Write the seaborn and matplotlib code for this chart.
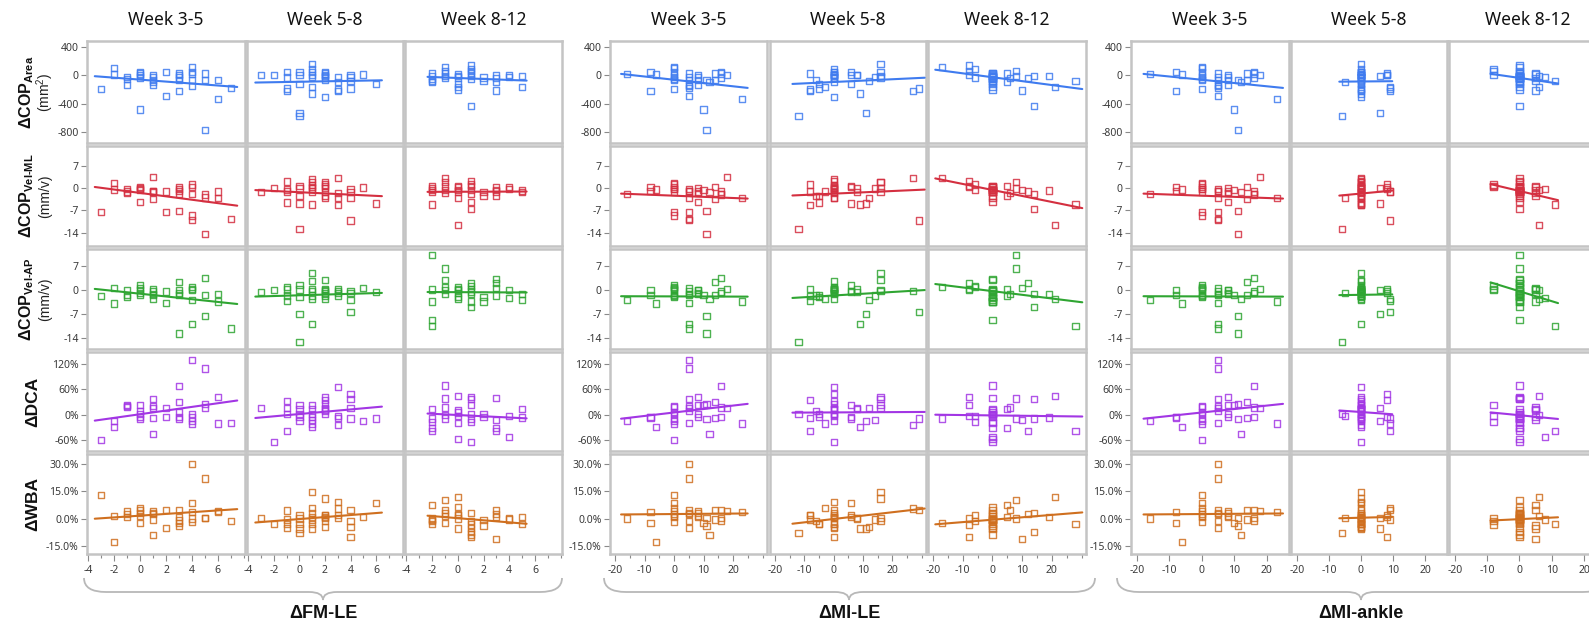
import numpy as np
import matplotlib
matplotlib.use("Agg")
import matplotlib.pyplot as plt
from matplotlib.path import Path
from matplotlib.patches import PathPatch
import seaborn as sns

sns.set_theme(style="white")
plt.rcParams["font.family"] = ["Noto Sans", "DejaVu Sans"]
plt.rcParams["axes.unicode_minus"] = False
plt.rcParams["mathtext.fontset"] = "custom"
plt.rcParams["mathtext.rm"] = "Liberation Sans"
plt.rcParams["mathtext.bf"] = "Liberation Sans:bold"
plt.rcParams["mathtext.it"] = "Liberation Sans:italic"

# ---------------------------------------------------------------- data
weeks = ["Week 3-5", "Week 5-8", "Week 8-12"]
predictor_names = ["ΔFM-LE", "ΔMI-LE", "ΔMI-ankle"]

# Week 3-5 (one entry per participant)
fm_w1 = [4, -2, 2, 4, 0, 0, 3, 5, 4, -2, 0, 1, 3, -1, 1, 0, 3, -1, 1, 3, 6, 4, 5, 1, -1, 1, 4, 7, -3, 3, 2, 6, 0, 5]
mile_w1 = [0, 0, 16, -8, 0, 5, 14, 16, -16, -6, 8, 18, 0, 0, 5, 8, 16, 0, 14, 11, 8, 0, 5, 12, 8, 5, 5, 5, 0, -8, 5, 23, 10, 11]
mia_w1 = [0, 0, 16, -8, 0, 5, 14, 16, -16, -6, 8, 18, 0, 0, 5, 8, 16, 0, 14, 11, 8, 0, 5, 12, 8, 5, 5, 5, 0, -8, 5, 23, 10, 11]
area_w1 = [110, 100, 48, 48, 43, 24, 24, 24, 14, 10, 5, 5, 0, -24, -24, -33, -33, -52, -62, -62, -62, -71, -71, -90,
           -138, -138, -152, -181, -190, -224, -290, -333, -481, -771]
mlv_w1 = [1.2, 1.7, -1.0, 0.3, 0.3, -0.3, 0.3, -2.0, -1.7, -0.4, -4.3, 3.6, -0.3, -0.2, -1.0, 0.0, -1.9, -1.0, -3.3,
          -7.1, -1.0, -8.6, -2.9, -1.2, -1.6, -0.8, -10.0, -9.6, -7.6, -0.8, -7.4, -3.2, -0.6, -14.5]
apv_w1 = [0.4, 0.7, -0.4, 0.1, 1.4, 0.7, 2.3, 3.6, -2.9, -3.9, 0.0, 0.4, 0.0, -1.5, -0.3, -0.8, -0.8, -2.0, -1.5,
          -12.7, -1.1, 1.0, -1.5, -2.7, 0.0, -1.2, -9.8, -11.2, -1.8, -1.5, -3.7, -3.3, -1.5, -7.6]
dca_w1 = [2, -16, -5, -7, -11, 8, 30, 17, -15, -30, 2, 15, 6, 21, 20, -5, 67, 18, -8, -11, 41, -23, 109, -45, 23, 36,
          130, -20, -60, -5, 16, -21, 22, 25]
wba_w1 = [8.4, 1.6, 4.6, 3.7, 5.9, 4.4, 4.6, 0.4, 0.0, -13.0, 2.9, 4.0, 0.7, 4.0, 2.6, 1.5, -1.1, 2.6, -0.5, -4.2,
          4.0, -1.8, 22.0, -9.1, 0.7, 3.0, 30.0, -1.5, 12.8, -2.6, -5.3, 3.5, -2.6, 0.4]

# Week 5-8
fm_w2 = [1, 1, -1, 0, 1, 2, 2, 5, 0, 1, 2, -3, -2, 4, 2, 1, -1, 2, 3, 4, 2, 4, 3, 6, 0, 1, -1, 4, 3, -1, 3, 1, 2, 0, 0]
mile_w2 = [16, 0, 0, 6, 0, 16, -8, 0, 8, 6, 0, 8, 0, 0, 16, 14, 0, 0, 0, 16, -6, 12, 0, 6, -5, -3, -5, 29, -8, -8,
           27, 9, 0, 11, -12]
mia_w2 = [0, 0, 0, 0, 0, 0, 8, 0, 0, 8, 0, 0, 0, 8, 6, 0, 0, 0, 0, 0, 0, 0, -5, 0, 0, 9, 0, 9, 0, 9, 0, 0, 0, 6, -6]
area_w2 = [157, 86, 43, 43, 43, 43, 24, 10, 5, 5, 5, 0, 0, 0, -14, -20, -33, -33, -33, -33, -62, -81, -95, -124,
           -128, -162, -186, -186, -200, -224, -224, -257, -309, -533, -567]
mlv_w2 = [1.9, 2.8, 2.1, 0.6, 1.1, 1.9, 1.2, 0.2, -0.1, 0.5, 0.8, -1.3, 0.0, -0.2, 0.0, -0.1, -0.4, -1.3, -1.5,
          -1.3, -2.5, -3.0, -3.2, -4.8, -2.5, -1.0, -4.5, -10.2, -5.2, -1.0, 3.2, -5.1, -3.2, -4.8, -12.9]
apv_w2 = [5.1, 2.6, 0.8, 1.6, 0.4, 3.0, 0.4, 0.7, 0.2, -0.3, -0.3, -0.5, 0.1, -0.8, 0.0, -1.6, 0.2, -1.0, 0.4,
          -0.2, -1.6, -2.9, -0.8, -0.6, -2.0, -2.7, -1.6, -6.5, -1.8, -3.2, -0.2, -9.8, -2.7, -7.0, -15.1]
dca_w2 = [22, 14, 33, 22, 2, 41, 34, -15, 14, -5, 26, 15, -65, 48, 16, -13, 15, 12, 65, 36, 9, 16, -3, -9, -5, -21,
          2, -9, -8, -38, -24, -29, 2, -15, 2]
wba_w2 = [14.5, -2.9, 4.4, 1.8, 3.1, 11.0, 1.8, 0.7, 0.0, 1.0, 0.7, 0.2, -2.9, -10.2, 0.5, -0.5, -5.1, 2.0, 9.0,
          -1.5, -1.5, -4.8, 0.4, 8.6, -2.9, 5.9, -2.9, 4.9, 1.8, -0.5, 5.5, -5.5, -4.8, -5.5, -8.0]

# Week 8-12
fm_w3 = [1, -1, 1, -1, 1, -2, -1, 1, 0, 4, 3, -2, -1, 0, 1, 5, 4, 0, 2, -1, 3, -2, 1, 2, -2, 3, -2, 0, 0, 5, 0, 3, 1]
mile_w3 = [-8, -17, -6, 8, -8, 5, 0, 0, 0, -8, 0, 8, 0, 0, 14, 19, 0, -6, 0, 6, 12, 0, 0, 0, 28, 5, 0, 0, 21, 0,
           0, 10, 14]
mia_w3 = [0, 0, -8, 0, -8, 5, 0, 0, 5, -8, 0, 0, 6, 0, 0, 0, 8, 0, 0, 5, 0, 0, 0, 5, 11, 0, 0, 0, 6, 0, 0, 5, 0]
area_w3 = [138, 110, 90, 62, 62, 24, 24, 24, 14, 5, -5, -14, -14, -14, -14, -14, -20, -33, -33, -43, -43, -52, -52,
           -81, -86, -90, -100, -128, -167, -162, -200, -214, -428]
mlv_w3 = [2.2, 3.2, 1.2, 1.9, 0.6, 0.6, 0.6, -0.6, 0.2, 0.4, 0.2, -0.1, -0.6, 0.6, -1.7, -0.7, -0.2, -0.6, -1.1,
          -1.5, -1.0, -0.6, -4.3, -2.5, -5.1, -2.3, -1.3, -3.0, -11.6, -1.3, -1.0, -0.5, -6.5]
apv_w3 = [2.0, 1.0, 1.2, 6.3, 0.4, 0.2, 2.9, -0.4, 0.4, 0.0, 3.3, 10.3, 0.0, -0.8, -1.2, -1.1, -2.3, 1.0, -2.0,
          -1.1, 2.0, -8.8, -3.3, -3.3, -10.4, -1.6, -3.3, -2.0, -2.5, -2.9, 0.0, 0.5, -4.9]
dca_w3 = [41, -9, -17, 38, 22, 14, 69, 2, 10, -3, 40, -9, 0, 5, -9, -7, -52, -3, 2, 17, -38, -17, -64, -5, -38, -31,
          -31, -58, 44, 14, -20, -13, 36]
wba_w3 = [-10.2, -2.4, -1.5, 10.0, -3.3, 7.3, 3.1, -5.1, -5.5, 0.0, 4.6, 0.0, 1.3, 6.2, -7.3, 0.7, -0.5, 1.8, -0.7,
          4.9, 2.6, -1.5, -8.8, -3.8, -2.9, 0.7, -1.0, 0.0, 11.7, -2.9, 2.5, -11.3, 3.1]

predictors = [[fm_w1, fm_w2, fm_w3], [mile_w1, mile_w2, mile_w3], [mia_w1, mia_w2, mia_w3]]
outcomes = [[area_w1, area_w2, area_w3], [mlv_w1, mlv_w2, mlv_w3], [apv_w1, apv_w2, apv_w3],
            [dca_w1, dca_w2, dca_w3], [wba_w1, wba_w2, wba_w3]]

y_ticks = [[400, 0, -400, -800], [7, 0, -7, -14], [7, 0, -7, -14], [120, 60, 0, -60], [30, 15, 0, -15]]
y_tick_labels = [["400", "0", "-400", "-800"], ["7", "0", "-7", "-14"], ["7", "0", "-7", "-14"],
                 ["120%", "60%", "0%", "-60%"], ["30.0%", "15.0%", "0.0%", "-15.0%"]]
x_ticks = [[-4, -2, 0, 2, 4, 6], [-20, -10, 0, 10, 20], [-20, -10, 0, 10, 20]]

# ---------------------------------------------------------------- styling
row_colors = ["#3f7bef", "#d42f40", "#2fa532", "#a236e4", "#cf6f1f"]
y_limits = [(-950, 480), (-18.2, 13.3), (-17.2, 12.0), (-86, 148), (-19.5, 35.5)]
x_limits = [(-4.1, 8.1), (-21.7, 31.5), (-21.8, 26.8)]
x_minor_step = [1, 5, None]

W, H = 1589, 625
fig = plt.figure(figsize=(W / 100, H / 100), dpi=100)

col_edges = [(87, 245), (247, 403), (405, 562),
             (610, 767), (770, 926), (928, 1086),
             (1131, 1289), (1291, 1447), (1449, 1606)]
row_edges = [(41, 143), (146, 246), (249, 349), (352, 451), (454, 554)]

border = "#c4c4c4"
tick_col = "#8a8a8a"
label_col = "#3a3a3a"

for g in range(3):
    for w in range(3):
        c = g * 3 + w
        l, r = col_edges[c]
        for ri in range(5):
            t, b = row_edges[ri]
            ax = fig.add_axes([l / W, 1 - b / H, (r - l) / W, (b - t) / H])
            x = np.asarray(predictors[g][w], dtype=float)
            y = np.asarray(outcomes[ri][w], dtype=float)
            color = row_colors[ri]

            sns.scatterplot(x=x, y=y, ax=ax, marker="s", s=20, color=color,
                            linewidth=1.0, alpha=0.85, legend=False, zorder=3)
            pts = ax.collections[-1]
            pts.set_facecolor("none")
            pts.set_edgecolor(color)

            # least-squares fit line over the data range plus a small margin
            slope, intercept = np.polyfit(x, y, 1)
            span = x.max() - x.min()
            xr = np.array([x.min() - 0.05 * span, x.max() + 0.05 * span])
            ax.plot(xr, slope * xr + intercept, color=color, lw=1.5, zorder=4)

            ax.set_xlim(*x_limits[g])
            ax.set_ylim(*y_limits[ri])
            ax.set_xlabel("")
            ax.set_ylabel("")
            for s in ax.spines.values():
                s.set_color(border)
                s.set_linewidth(1.8)
                s.set_visible(True)
            ax.set_facecolor("white")

            ax.set_yticks(y_ticks[ri])
            if w == 0:
                ax.set_yticklabels(y_tick_labels[ri])
                ax.tick_params(axis="y", left=True, length=4, width=0.8, color=tick_col,
                               labelsize=7.5, labelcolor=label_col, pad=2)
            else:
                ax.tick_params(axis="y", left=False, labelleft=False)

            ax.set_xticks(x_ticks[g])
            if x_minor_step[g]:
                lo, hi = x_limits[g]
                step = x_minor_step[g]
                minors = np.arange(np.ceil(lo / step) * step, hi + 1e-9, step)
                ax.set_xticks(minors, minor=True)
            if ri == 4:
                ax.set_xticklabels([str(v) for v in x_ticks[g]])
                ax.tick_params(axis="x", which="major", bottom=True, length=5, width=0.8,
                               color=tick_col, labelsize=7.5, labelcolor=label_col, pad=3)
                ax.tick_params(axis="x", which="minor", bottom=True, length=3, width=0.8,
                               color=tick_col)
            else:
                ax.tick_params(axis="x", which="both", bottom=False, labelbottom=False)

            if ri == 0:
                ax.text(0.5, 1 + (t - 20) / (b - t), weeks[w],
                        transform=ax.transAxes, ha="center", va="center",
                        fontsize=12.5, color="#111111")

# ---------------------------------------------------------------- row labels
row_label_main = [r"$\mathbf{ΔCOP}_{\mathbf{Area}}$", r"$\mathbf{ΔCOP}_{\mathbf{Vel‐ML}}$",
                  r"$\mathbf{ΔCOP}_{\mathbf{Vel‐AP}}$", "ΔDCA", "ΔWBA"]
row_label_unit = ["(mm$^2$)", "(mm/v)", "(mm/v)", None, None]
for ri in range(5):
    t, b = row_edges[ri]
    yc = 1 - (t + b) / 2 / H
    if row_label_unit[ri]:
        fig.text(27 / W, yc, row_label_main[ri], rotation=90, ha="center", va="center",
                 fontsize=11.5, color="#111111")
        fig.text(45 / W, yc, row_label_unit[ri], rotation=90, ha="center", va="center",
                 fontsize=10, color="#222222", family=["Liberation Sans", "DejaVu Sans"])
    else:
        fig.text(33 / W, yc, row_label_main[ri], rotation=90, ha="center", va="center",
                 fontsize=12.5, fontweight="bold", color="#111111",
                 family=["Liberation Sans", "DejaVu Sans"])

# ---------------------------------------------------------------- braces and group labels
def brace(x0, x1, xc, y_end=578, y_bar=592, y_tip=600, r_end=22, r_tip=14):
    def P(px, py):
        return (px / W, 1 - py / H)
    verts = [P(x0, y_end), P(x0, y_bar), P(x0 + r_end, y_bar),
             P(xc - r_tip, y_bar),
             P(xc, y_bar), P(xc, y_tip),
             P(xc, y_bar), P(xc + r_tip, y_bar),
             P(x1 - r_end, y_bar),
             P(x1, y_bar), P(x1, y_end)]
    codes = [Path.MOVETO, Path.CURVE3, Path.CURVE3,
             Path.LINETO,
             Path.CURVE3, Path.CURVE3,
             Path.CURVE3, Path.CURVE3,
             Path.LINETO,
             Path.CURVE3, Path.CURVE3]
    patch = PathPatch(Path(verts, codes), transform=fig.transFigure, fill=False,
                      edgecolor="#b8b8b8", lw=1.3)
    fig.patches.append(patch)

brace_spans = [(84, 562, 323), (604, 1095, 849), (1117, 1605, 1361)]
for (x0, x1, xc), name in zip(brace_spans, predictor_names):
    brace(x0, x1, xc)
    fig.text(xc / W, 1 - 613 / H, name, ha="center", va="center", fontsize=13,
             fontweight="bold", color="#111111", family=["Liberation Sans", "DejaVu Sans"])

fig.savefig("out.png", dpi=100)
